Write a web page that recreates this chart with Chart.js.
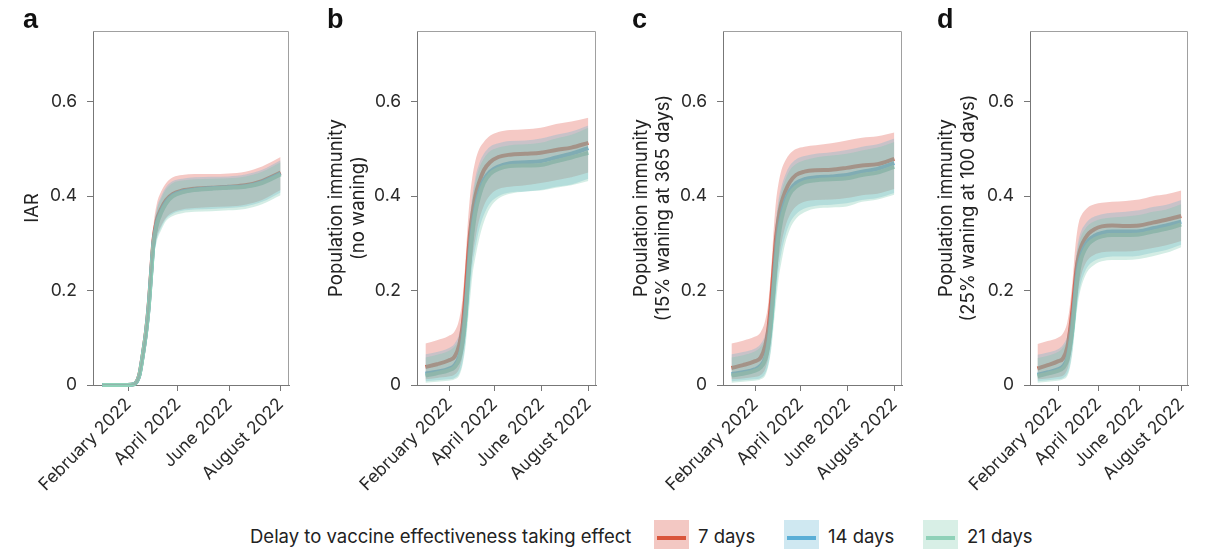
<!DOCTYPE html>
<html><head><meta charset="utf-8">
<script src="https://cdn.jsdelivr.net/npm/chart.js@4/dist/chart.umd.min.js"></script>
<style>
html,body{margin:0;padding:0;background:#fff;}
#wrap{position:relative;width:1212px;height:549px;overflow:hidden;background:#fff;font-family:Inter,"Liberation Sans",sans-serif;}
canvas{position:absolute;top:0;}
.plab{position:absolute;top:6px;font:bold 27px "Liberation Sans",Arial,sans-serif;color:#111;line-height:27px;}
.leg{position:absolute;top:525px;font-size:18.5px;color:#222;line-height:22px;white-space:nowrap;}
.sw{position:absolute;top:520px;width:35px;height:32px;}
.sw i{position:absolute;left:3px;right:3px;top:16px;height:4px;display:block;}
</style></head>
<body><div id="wrap">
<canvas id="ca" width="301" height="505" style="left:0px"></canvas>
<canvas id="cb" width="291" height="505" style="left:317px"></canvas>
<canvas id="cc" width="291" height="505" style="left:623px"></canvas>
<canvas id="cd" width="270" height="505" style="left:930px"></canvas>
<div class="plab" style="left:23px">a</div>
<div class="plab" style="left:327px">b</div>
<div class="plab" style="left:632px">c</div>
<div class="plab" style="left:937px">d</div>
<div class="leg" style="left:250px">Delay to vaccine effectiveness taking effect</div>
<div class="sw" style="left:654px;background:#f3c8c3"><i style="background:#d9553b"></i></div>
<div class="leg" style="left:698px">7 days</div>
<div class="sw" style="left:784px;background:#cfe8f1"><i style="background:#5aaed6"></i></div>
<div class="leg" style="left:828px">14 days</div>
<div class="sw" style="left:923px;background:#d8efe6"><i style="background:#8fd1b8"></i></div>
<div class="leg" style="left:967px">21 days</div>
</div>
<script>
// ---- data ----
const days = [0,15,30,38,44,48,52,55,58,61,65,70,76,84,95,110,130,150,170,190,212]; // days since 1 Jan 2022
const xTickDays = [31, 90, 151, 212];
const xTickLabels = ['February 2022', 'April 2022', 'June 2022', 'August 2022'];
const yTicks = [0, 0.2, 0.4, 0.6];
const seriesNames = ['7 days', '14 days', '21 days'];

// panel a: IAR
const a_red_mid = [0,0,0,0.002,0.021,0.062,0.113,0.165,0.237,0.308,0.35,0.373,0.392,0.405,0.412,0.416,0.418,0.42,0.423,0.432,0.45];
const a_red_lo  = [0,0,0,0,0.012,0.048,0.092,0.14,0.205,0.275,0.315,0.337,0.355,0.366,0.372,0.375,0.377,0.378,0.382,0.392,0.413];
const a_red_hi  = [0.002,0.002,0.002,0.005,0.03,0.075,0.13,0.19,0.27,0.34,0.385,0.41,0.428,0.44,0.445,0.447,0.447,0.448,0.452,0.463,0.483];
const a_blue_mid = [0,0,0,0.002,0.02,0.061,0.111,0.162,0.233,0.303,0.344,0.368,0.388,0.402,0.41,0.414,0.417,0.419,0.421,0.43,0.448];
const a_blue_lo  = [0,0,0,0,0.011,0.046,0.088,0.135,0.2,0.27,0.31,0.333,0.352,0.363,0.369,0.372,0.373,0.375,0.378,0.388,0.408];
const a_blue_hi  = [0.002,0.002,0.002,0.005,0.028,0.072,0.125,0.185,0.26,0.33,0.375,0.4,0.42,0.432,0.437,0.44,0.441,0.442,0.446,0.456,0.476];
const a_green_mid = [0,0,0,0.002,0.02,0.06,0.11,0.16,0.23,0.3,0.34,0.365,0.385,0.4,0.408,0.413,0.416,0.418,0.42,0.428,0.446];
const a_green_lo  = [0,0,0,0,0.01,0.044,0.085,0.13,0.195,0.265,0.305,0.328,0.348,0.358,0.364,0.367,0.368,0.37,0.373,0.383,0.402];
const a_green_hi  = [0.002,0.002,0.002,0.005,0.027,0.07,0.122,0.18,0.255,0.325,0.37,0.395,0.415,0.428,0.433,0.436,0.437,0.438,0.442,0.452,0.472];

// panel b: population immunity, no waning
const b_red_mid = [0.038,0.044,0.052,0.06,0.085,0.12,0.19,0.26,0.32,0.36,0.4,0.43,0.455,0.472,0.483,0.488,0.49,0.492,0.498,0.503,0.513];
const b_red_lo  = [0.012,0.015,0.018,0.022,0.035,0.06,0.11,0.17,0.23,0.27,0.31,0.35,0.38,0.402,0.415,0.42,0.423,0.428,0.434,0.44,0.45];
const b_red_hi  = [0.088,0.095,0.104,0.114,0.14,0.18,0.26,0.34,0.4,0.44,0.475,0.5,0.515,0.528,0.536,0.54,0.542,0.545,0.553,0.558,0.566];
const b_blue_mid = [0.024,0.028,0.034,0.042,0.06,0.09,0.15,0.22,0.28,0.33,0.375,0.41,0.435,0.452,0.463,0.47,0.472,0.474,0.482,0.49,0.502];
const b_blue_lo  = [0.008,0.01,0.012,0.015,0.025,0.045,0.09,0.15,0.2,0.25,0.29,0.33,0.36,0.385,0.4,0.408,0.41,0.413,0.42,0.425,0.437];
const b_blue_hi  = [0.065,0.07,0.078,0.088,0.11,0.15,0.22,0.3,0.36,0.4,0.44,0.47,0.49,0.505,0.512,0.517,0.518,0.522,0.53,0.537,0.55];
const b_green_mid = [0.02,0.025,0.031,0.038,0.055,0.085,0.14,0.21,0.27,0.32,0.365,0.4,0.428,0.447,0.458,0.464,0.465,0.466,0.474,0.482,0.492];
const b_green_lo  = [0.005,0.007,0.009,0.012,0.02,0.04,0.08,0.13,0.18,0.23,0.27,0.31,0.345,0.375,0.395,0.405,0.41,0.412,0.418,0.423,0.432];
const b_green_hi  = [0.058,0.064,0.072,0.082,0.1,0.14,0.21,0.29,0.35,0.39,0.43,0.46,0.48,0.495,0.503,0.508,0.51,0.513,0.522,0.53,0.545];

// panel c: 15% waning at 365 days
const c_red_mid = [0.036,0.042,0.05,0.058,0.083,0.118,0.185,0.25,0.31,0.35,0.385,0.41,0.43,0.445,0.452,0.455,0.456,0.46,0.465,0.468,0.479];
const c_red_lo  = [0.012,0.014,0.017,0.021,0.034,0.058,0.105,0.165,0.22,0.26,0.3,0.335,0.36,0.378,0.388,0.392,0.393,0.396,0.402,0.405,0.415];
const c_red_hi  = [0.088,0.094,0.102,0.112,0.137,0.175,0.25,0.33,0.39,0.425,0.455,0.475,0.49,0.5,0.505,0.508,0.512,0.518,0.524,0.527,0.535];
const c_blue_mid = [0.023,0.027,0.033,0.041,0.058,0.088,0.145,0.21,0.27,0.32,0.36,0.39,0.412,0.428,0.436,0.44,0.442,0.445,0.452,0.458,0.47];
const c_blue_lo  = [0.008,0.01,0.012,0.015,0.025,0.044,0.087,0.145,0.195,0.24,0.28,0.315,0.343,0.362,0.374,0.38,0.382,0.385,0.392,0.396,0.407];
const c_blue_hi  = [0.065,0.07,0.077,0.087,0.108,0.145,0.215,0.29,0.35,0.39,0.42,0.445,0.465,0.478,0.485,0.49,0.493,0.498,0.505,0.51,0.522];
const c_green_mid = [0.02,0.024,0.03,0.037,0.054,0.083,0.137,0.2,0.26,0.31,0.35,0.38,0.405,0.42,0.43,0.434,0.436,0.438,0.445,0.45,0.462];
const c_green_lo  = [0.005,0.007,0.009,0.012,0.02,0.04,0.078,0.127,0.175,0.22,0.26,0.3,0.33,0.352,0.366,0.374,0.376,0.378,0.388,0.393,0.403];
const c_green_hi  = [0.058,0.063,0.071,0.081,0.1,0.138,0.205,0.28,0.34,0.38,0.41,0.435,0.455,0.468,0.476,0.482,0.486,0.49,0.497,0.503,0.515];

// panel d: 25% waning at 100 days
const d_red_mid = [0.035,0.042,0.05,0.057,0.08,0.115,0.165,0.21,0.25,0.275,0.295,0.31,0.322,0.33,0.336,0.338,0.337,0.338,0.344,0.35,0.358];
const d_red_lo  = [0.012,0.014,0.017,0.02,0.033,0.055,0.095,0.14,0.18,0.21,0.235,0.255,0.268,0.276,0.281,0.283,0.283,0.285,0.29,0.296,0.305];
const d_red_hi  = [0.087,0.093,0.1,0.11,0.133,0.17,0.225,0.28,0.32,0.345,0.36,0.37,0.378,0.383,0.386,0.388,0.39,0.393,0.4,0.404,0.412];
const d_blue_mid = [0.022,0.027,0.033,0.04,0.056,0.085,0.13,0.18,0.225,0.255,0.278,0.295,0.308,0.316,0.322,0.325,0.325,0.326,0.332,0.338,0.346];
const d_blue_lo  = [0.008,0.01,0.012,0.015,0.024,0.042,0.08,0.125,0.165,0.195,0.22,0.24,0.254,0.263,0.269,0.272,0.272,0.274,0.28,0.286,0.297];
const d_blue_hi  = [0.064,0.069,0.076,0.086,0.105,0.14,0.19,0.245,0.285,0.31,0.328,0.34,0.35,0.357,0.362,0.365,0.367,0.37,0.377,0.382,0.392];
const d_green_mid = [0.019,0.024,0.03,0.036,0.052,0.08,0.122,0.17,0.215,0.245,0.27,0.287,0.3,0.309,0.315,0.318,0.318,0.319,0.325,0.331,0.34];
const d_green_lo  = [0.005,0.007,0.009,0.012,0.019,0.037,0.072,0.115,0.155,0.185,0.21,0.23,0.245,0.255,0.262,0.265,0.265,0.267,0.273,0.28,0.292];
const d_green_hi  = [0.057,0.062,0.07,0.08,0.098,0.132,0.18,0.235,0.275,0.3,0.318,0.33,0.34,0.347,0.352,0.355,0.357,0.36,0.367,0.372,0.383];

// ---- styling ----
const FONT = 'Inter, "Liberation Sans", sans-serif';
const lineCols = ['#d9553b', '#5aaed6', '#8fd1b8'];
const bandCols = ['rgba(230,120,110,0.40)', 'rgba(100,180,210,0.30)', 'rgba(120,200,175,0.32)'];

function pts(vals) { return days.map((d, i) => ({x: d, y: vals[i]})); }

const boxPlugin = {
  id: 'box',
  afterDatasetsDraw(chart) {
    const {ctx, chartArea: ca} = chart;
    ctx.save();
    ctx.strokeStyle = '#a0a0a0';
    ctx.lineWidth = 1;
    ctx.beginPath();
    ctx.moveTo(ca.left, ca.top + 0.5);
    ctx.lineTo(ca.right - 0.5, ca.top + 0.5);
    ctx.lineTo(ca.right - 0.5, ca.bottom);
    ctx.stroke();
    ctx.restore();
  }
};

function makePanel(id, title, titlePad, yWidth, mids, los, his) {
  const datasets = [];
  // lines (drawn first, below the bands)
  mids.forEach((m, k) => datasets.push({
    label: seriesNames[k], data: pts(m), borderColor: lineCols[k], borderWidth: 4,
    pointRadius: 0, fill: false, cubicInterpolationMode: 'monotone', order: 10 - k, clip: 6
  }));
  // bands
  his.forEach((h, k) => {
    const idx = datasets.length;
    datasets.push({label: seriesNames[k] + ' hi', data: pts(h), borderWidth: 0, borderColor: 'rgba(0,0,0,0)',
      pointRadius: 0, fill: {target: idx + 1}, backgroundColor: bandCols[k],
      cubicInterpolationMode: 'monotone', order: 5 - 2 * k});
    datasets.push({label: seriesNames[k] + ' lo', data: pts(los[k]), borderWidth: 0, borderColor: 'rgba(0,0,0,0)',
      pointRadius: 0, fill: false, cubicInterpolationMode: 'monotone', order: 5 - 2 * k});
  });
  new Chart(document.getElementById(id), {
    type: 'line',
    data: {datasets},
    options: {
      responsive: false, animation: false, devicePixelRatio: 1,
      layout: {padding: {left: 0, right: 12, top: 31, bottom: 0}},
      plugins: {legend: {display: false}, tooltip: {enabled: false}},
      scales: {
        x: {
          type: 'linear', min: -11, max: 222,
          afterBuildTicks: s => { s.ticks = xTickDays.map(v => ({value: v})); },
          afterFit: s => { s.height = 120; s.paddingLeft = 0; s.paddingRight = 0; },
          ticks: {autoSkip: false, minRotation: 45, maxRotation: 45, padding: 3,
            color: '#2a2a2a', font: {family: FONT, size: 17.5},
            callback: v => xTickLabels[xTickDays.indexOf(v)]},
          grid: {drawOnChartArea: false, drawTicks: true, tickLength: 6, color: '#777'},
          border: {display: true, color: '#777', width: 1}
        },
        y: {
          min: 0, max: 0.75,
          afterBuildTicks: s => { s.ticks = yTicks.map(v => ({value: v})); },
          afterFit: s => { s.width = yWidth; },
          ticks: {padding: 10, color: '#2a2a2a', font: {family: FONT, size: 17.5},
            callback: v => (v === 0 ? '0' : String(v))},
          grid: {drawOnChartArea: false, drawTicks: true, tickLength: 6, color: '#777'},
          border: {display: true, color: '#777', width: 1},
          title: {display: true, text: title, color: '#222',
            font: {family: FONT, size: 18.5, lineHeight: 22 / 18.5}, padding: {top: titlePad, bottom: 0}}
        }
      }
    },
    plugins: [boxPlugin]
  });
}

makePanel('ca', 'IAR', 21, 93,
  [a_red_mid, a_blue_mid, a_green_mid], [a_red_lo, a_blue_lo, a_green_lo], [a_red_hi, a_blue_hi, a_green_hi]);
makePanel('cb', ['Population immunity', '(no waning)'], 8, 100,
  [b_red_mid, b_blue_mid, b_green_mid], [b_red_lo, b_blue_lo, b_green_lo], [b_red_hi, b_blue_hi, b_green_hi]);
makePanel('cc', ['Population immunity', '(15% waning at 365 days)'], 7.5, 100,
  [c_red_mid, c_blue_mid, c_green_mid], [c_red_lo, c_blue_lo, c_green_lo], [c_red_hi, c_blue_hi, c_green_hi]);
makePanel('cd', ['Population immunity', '(25% waning at 100 days)'], 5.5, 100,
  [d_red_mid, d_blue_mid, d_green_mid], [d_red_lo, d_blue_lo, d_green_lo], [d_red_hi, d_blue_hi, d_green_hi]);
</script>
</body></html>
